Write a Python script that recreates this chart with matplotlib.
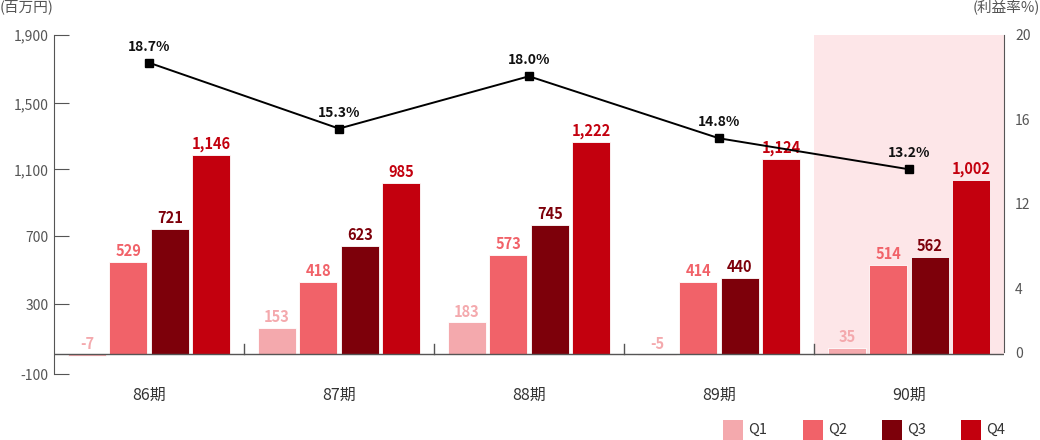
import matplotlib
matplotlib.use("Agg")
import matplotlib.pyplot as plt
from matplotlib.patches import Rectangle
import numpy as np

plt.rcParams['font.family'] = ['Noto Sans CJK JP', 'DejaVu Sans']

periods = ["86期", "87期", "88期", "89期", "90期"]
quarters = ["Q1", "Q2", "Q3", "Q4"]
q1 = [-7, 153, 183, -5, 35]
q2 = [529, 418, 573, 414, 514]
q3 = [721, 623, 745, 440, 562]
q4 = [1146, 985, 1222, 1124, 1002]
margin = [18.7, 15.3, 18.0, 14.8, 13.2]
left_tick_labels = ["-100", "300", "700", "1,100", "1,500", "1,900"]
right_tick_labels = ["20", "16", "12", "4", "0"]

colors = ["#f4a9ad", "#f16269", "#7d000a", "#c3000e"]
series = [q1, q2, q3, q4]

fig = plt.figure(figsize=(10.4, 4.4), dpi=100)
ax = fig.add_axes([54/1040, 1-374.3/440, 950/1040, 339.3/440])
ax2 = ax.twinx()

x = np.arange(len(periods))
ax.set_xlim(-0.5, len(periods) - 0.5)
ylo, yhi = -115, 1835
ax.set_ylim(ylo, yhi)

# highlight last period
ymin_frac = (0 - ylo) / (yhi - ylo)
ax.axvspan(3.5, 4.5, ymin=ymin_frac, ymax=1, color="#fde6e8", zorder=0, lw=0)

w = 0.2
step = 0.218
offsets = (np.arange(4) - 1.5) * step
for vals, c, off in zip(series, colors, offsets):
    ax.bar(x + off, vals, width=w, color=c, edgecolor="white", linewidth=0.6, zorder=2)
    for xi, v in zip(x + off, vals):
        ytxt = max(v, 0)
        ax.annotate(f"{v:,}", (xi, ytxt), xytext=(0, 2), textcoords="offset points",
                    ha="center", va="bottom", fontsize=10.5, fontweight="bold", color=c, zorder=5)

# baseline
ax.axhline(0, color="#555555", lw=1.0, zorder=3)
for b in [0.5, 1.5, 2.5, 3.5]:
    ax.plot([b, b], [0, 58], color="#555555", lw=1.0, zorder=3)

for sp in ["top", "right", "bottom"]:
    ax.spines[sp].set_visible(False)
ax.spines["left"].set_color("#555555")
# tick positions matching the reference's drawn axis
ax.set_yticks([-115, 287, 678, 1063, 1442, 1835])
ax.set_yticklabels(left_tick_labels)
ax.tick_params(axis="y", direction="in", length=11, color="#555555", labelcolor="#555555", labelsize=10, pad=4)
ax.set_xticks(x)
ax.set_xticklabels(periods)
ax.tick_params(axis="x", length=0, labelsize=11.5, labelcolor="#333333", pad=9)

# line on right axis
ax2.set_ylim(2.62, 20.13)
ax2.plot(x, margin, color="black", lw=1.4, marker="s", markersize=6, zorder=4)
for xi, m in zip(x, margin):
    ax2.annotate(f"{m}%", (xi, m), xytext=(0, 11.5), textcoords="offset points",
                 ha="center", va="center", fontsize=10, fontweight="bold", color="#111111")
for sp in ["top", "left", "bottom"]:
    ax2.spines[sp].set_visible(False)
ax2.spines["right"].set_color("#555555")
ax2.spines["right"].set_bounds(3.77, 20.13)
ax2.set_yticks([20.13, 15.79, 11.41, 7.07, 3.77])
ax2.set_yticklabels(right_tick_labels)
ax2.tick_params(axis="y", length=0, labelcolor="#555555", labelsize=10, pad=8)

fig.text(0/1040, 1-7/440, "(百万円)", fontsize=10.5, color="#555555", ha="left", va="center")
fig.text(1040/1040, 1-7/440, "(利益率%)", fontsize=10.5, color="#555555", ha="right", va="center")

# legend
lx = [723, 803, 882, 961]
for px, c, q in zip(lx, colors, quarters):
    fig.patches.append(Rectangle((px/1040, 0), 20/1040, 20/440, transform=fig.transFigure,
                                 color=c, lw=0))
    fig.text((px+25)/1040, 1-430/440, q, fontsize=10.5, color="#333333", ha="left", va="center")

fig.savefig("out.png", dpi=100)
